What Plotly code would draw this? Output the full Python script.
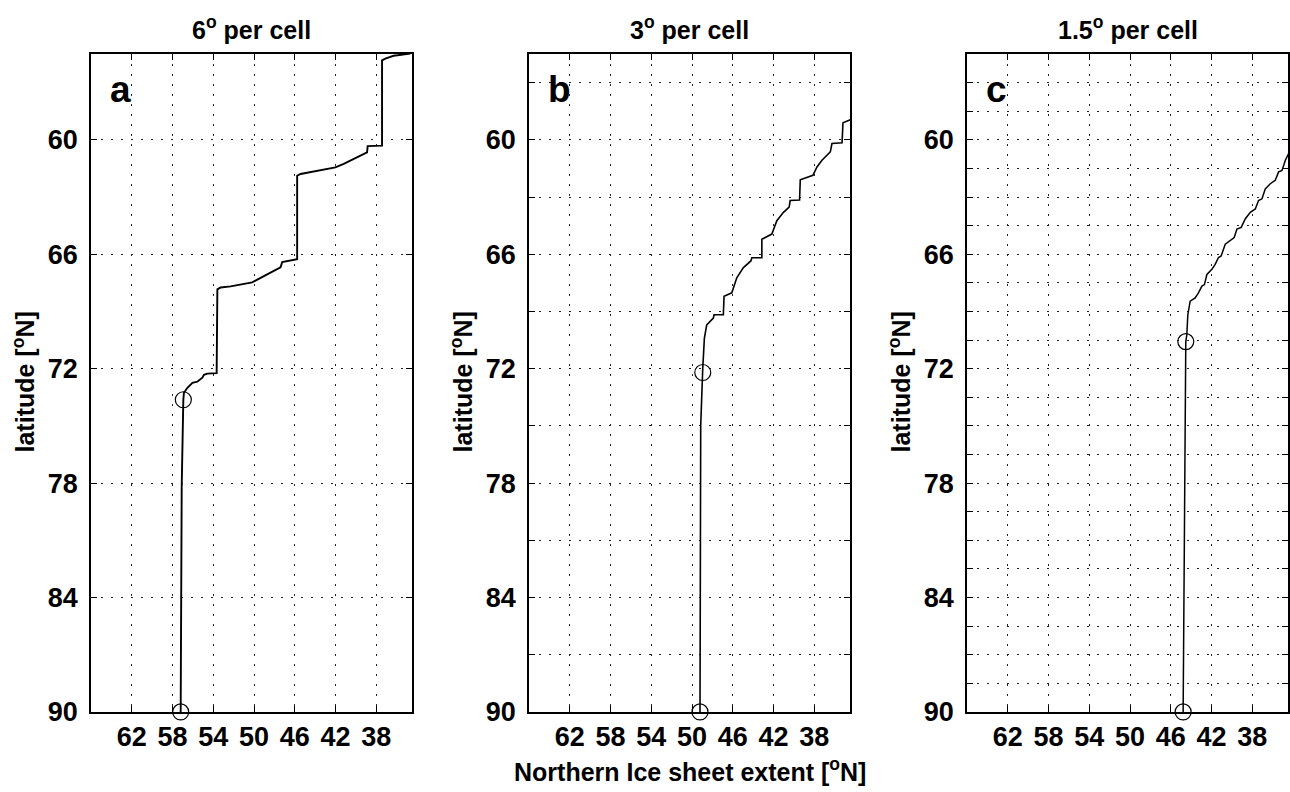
import plotly.graph_objects as go

# ---------------- data ----------------
panel_titles = ["6<sup>o</sup> per cell", "3<sup>o</sup> per cell", "1.5<sup>o</sup> per cell"]
panel_letters = ["a", "b", "c"]

# Panel a: 6 degrees per cell
a_ext = [57.20, 57.10, 56.94, 56.88, 56.54, 56.05, 55.57, 55.07, 54.92, 54.58, 53.67,
         53.60, 53.28, 52.30, 50.18, 49.69, 48.71, 47.40, 47.24, 45.77,
         45.77, 45.44, 44.17, 42.02, 41.20, 38.91, 38.85, 37.44,
         37.44, 37.12, 36.30, 34.67]
a_lat = [90.00, 78.21, 73.63, 73.26, 73.00, 72.74, 72.68, 72.47, 72.32, 72.26, 72.23,
         67.84, 67.74, 67.68, 67.47, 67.32, 67.05, 66.68, 66.41, 66.26,
         61.88, 61.79, 61.67, 61.44, 61.26, 60.65, 60.33, 60.30,
         55.83, 55.74, 55.59, 55.47]
a_circ_ext = [57.20, 56.94]
a_circ_lat = [90.00, 73.63]

# Panel b: 3 degrees per cell
b_ext = [49.22, 49.15, 48.95, 48.79, 48.56, 47.91, 47.84, 46.93, 46.86, 46.10, 45.61,
         44.96, 44.23, 44.13, 43.15, 43.15, 42.17, 41.68, 41.03, 40.47, 40.37, 39.45,
         39.38, 38.14, 37.74, 37.25, 36.43, 36.27, 35.28, 35.19, 34.47]
b_lat = [90.00, 74.98, 71.99, 70.40, 69.70, 69.35, 69.17, 69.17, 68.20, 68.02, 67.23,
         66.70, 66.35, 66.18, 66.18, 65.21, 64.94, 64.24, 63.80, 63.53, 63.18, 63.15,
         62.09, 61.86, 61.42, 61.07, 60.63, 60.19, 60.15, 59.10, 58.95]
b_circ_ext = [49.22, 48.95]
b_circ_lat = [90.00, 72.20]

# Panel c: 1.5 degrees per cell
c_ext = [44.79, 44.64, 44.53, 44.43, 44.33, 44.10, 43.61, 43.29, 42.95, 42.70, 42.46,
         41.97, 41.65, 41.32, 41.06, 40.66, 40.17, 39.78, 39.51, 39.09, 38.70, 38.20,
         37.71, 37.39, 37.05, 36.73, 36.24, 35.75, 35.42, 35.09, 34.76, 34.44]
c_lat = [90.00, 78.85, 70.58, 70.23, 69.17, 68.46, 68.29, 68.02, 67.67, 67.59, 67.06,
         66.79, 66.53, 66.17, 66.09, 65.47, 65.29, 65.12, 64.68, 64.59, 64.15, 63.80,
         63.62, 63.18, 63.09, 62.57, 62.30, 62.12, 61.68, 61.60, 61.07, 60.72]
c_circ_ext = [44.79, 44.53]
c_circ_lat = [90.00, 70.58]

x_ticks = [62, 58, 54, 50, 46, 42, 38]
y_labels = [60, 66, 72, 78, 84, 90]
y_grid_a = [60, 66, 72, 78, 84, 90]
y_grid_b = [57, 60, 63, 66, 69, 72, 75, 78, 81, 84, 87, 90]
y_grid_c = [55.5, 57, 58.5, 60, 61.5, 63, 64.5, 66, 67.5, 69, 70.5, 72, 73.5, 75,
            76.5, 78, 79.5, 81, 82.5, 84, 85.5, 87, 88.5, 90]

# ---------------- figure ----------------
W, H = 1290, 792
HE = 776.0  # effective rendered height used for placement
FONT = "Liberation Sans"
fig = go.Figure()

series = [(a_ext, a_lat, a_circ_ext, a_circ_lat),
          (b_ext, b_lat, b_circ_ext, b_circ_lat),
          (c_ext, c_lat, c_circ_ext, c_circ_lat)]
y_grids = [y_grid_a, y_grid_b, y_grid_c]
line_w = [1.9, 1.6, 1.5]
lefts = [91, 529, 967]
width_px = 321
top_px, bot_px = 54, 711


def py(p):
    return 1 - p / HE


for i, (xe, yl, cx, cy) in enumerate(series):
    sx = "" if i == 0 else str(i + 1)
    fig.add_trace(go.Scatter(x=xe, y=yl, mode="lines",
                             line=dict(color="black", width=line_w[i]),
                             xaxis="x" + sx, yaxis="y" + sx, showlegend=False))
    fig.add_trace(go.Scatter(x=cx, y=cy, mode="markers",
                             marker=dict(symbol="circle-open", size=16,
                                         color="black", line=dict(width=1.2, color="black")),
                             xaxis="x" + sx, yaxis="y" + sx, showlegend=False,
                             cliponaxis=False))

    grid = dict(showgrid=True, gridcolor="#222222", gridwidth=1, griddash="1.5px,8.5px",
                showline=True, linecolor="black", linewidth=1.5, mirror="allticks",
                ticks="inside", ticklen=6, tickwidth=1, tickcolor="black",
                zeroline=False,
                tickfont=dict(family=FONT, size=27, color="black", weight="bold"))
    dom_x = [lefts[i] / W, (lefts[i] + width_px) / W]
    dom_y = [py(bot_px), py(top_px)]
    xa = dict(grid, domain=dom_x, range=[66, 34.5], tickmode="array",
              tickvals=x_ticks, ticktext=[str(v) for v in x_ticks],
              anchor="y" + sx, ticklabelstandoff=0)
    yv = y_grids[i]
    ya = dict(grid, domain=dom_y, range=[90, 55.5], tickmode="array",
              tickvals=yv, ticktext=[str(int(v)) if v in y_labels else "" for v in yv],
              anchor="x" + sx, ticklabelstandoff=6)
    fig.layout["xaxis" + sx] = xa
    fig.layout["yaxis" + sx] = ya

    cx_px = lefts[i] + width_px / 2
    # title
    fig.add_annotation(text="<b>" + panel_titles[i] + "</b>", x=cx_px / W, y=py(28),
                       xref="paper", yref="paper", showarrow=False,
                       xanchor="center", yanchor="middle",
                       font=dict(family=FONT, size=25, color="black"))
    # y title
    fig.add_annotation(text="<b>latitude [<sup>o</sup>N]</b>", x=(lefts[i] - 67) / W,
                       y=py(382), xref="paper", yref="paper", showarrow=False,
                       textangle=-90, xanchor="center", yanchor="middle",
                       font=dict(family=FONT, size=25, color="black"))
    # panel letter
    fig.add_annotation(text="<b>" + panel_letters[i] + "</b>", x=(lefts[i] + 17) / W,
                       y=py(89), xref="paper", yref="paper", showarrow=False,
                       xanchor="left", yanchor="middle",
                       font=dict(family=FONT, size=37, color="black"))

fig.add_annotation(text="<b>Northern Ice sheet extent [<sup>o</sup>N]</b>",
                   x=(529 + width_px / 2) / W, y=py(769), xref="paper", yref="paper",
                   showarrow=False, xanchor="center", yanchor="middle",
                   font=dict(family=FONT, size=25, color="black"))

fig.update_layout(width=W, height=H, autosize=False,
                  margin=dict(l=0, r=0, t=0, b=0),
                  paper_bgcolor="white", plot_bgcolor="white")

fig.write_html("out.html", config={"responsive": False})
